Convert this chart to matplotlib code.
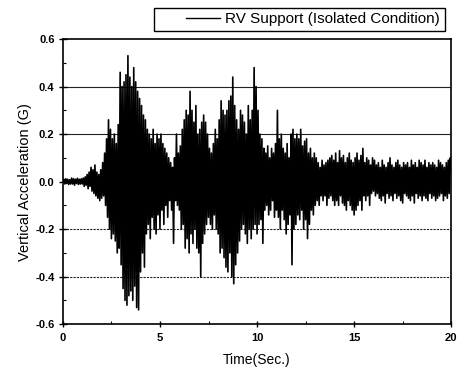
import numpy as np
import matplotlib
matplotlib.use("Agg")
import matplotlib.pyplot as plt
from matplotlib.ticker import MultipleLocator
from matplotlib.legend_handler import HandlerLine2D

plt.rcParams['font.family'] = ['Liberation Sans', 'DejaVu Sans']

# sample interval (s)
dt = 0.05

acc_0 = [0.00, 0.01, -0.01, 0.012, -0.008, 0.01, -0.012, 0.008, -0.01, 0.015, -0.01, 0.012, -0.015, 0.01, -0.008, 0.014, -0.012, 0.01, -0.01, 0.012]
acc_1 = [-0.01, 0.015, -0.02, 0.02, -0.015, 0.03, -0.03, 0.04, -0.02, 0.06, -0.04, 0.05, -0.05, 0.07, -0.06, 0.04, -0.07, 0.03, -0.08, 0.05]
acc_2 = [-0.07, 0.08, -0.06, 0.12, -0.1, 0.18, -0.15, 0.26, -0.2, 0.22, -0.24, 0.18, -0.22, 0.2, -0.25, 0.16, -0.3, 0.24, -0.28, 0.46]
acc_3 = [-0.35, 0.4, -0.45, 0.42, -0.5, 0.45, -0.52, 0.53, -0.48, 0.44, -0.46, 0.4, -0.5, 0.48, -0.44, 0.42, -0.53, 0.38, -0.54, 0.35]
acc_4 = [-0.38, 0.32, -0.3, 0.28, -0.36, 0.26, -0.22, 0.22, -0.18, 0.2, -0.24, 0.18, -0.15, 0.22, -0.2, 0.16, -0.22, 0.2, -0.14, 0.18]
acc_5 = [-0.2, 0.2, -0.12, 0.16, -0.18, 0.14, -0.1, 0.12, -0.15, 0.1, -0.08, 0.08, -0.12, 0.06, -0.26, 0.1, -0.08, 0.2, -0.1, 0.12]
acc_6 = [-0.12, 0.15, -0.2, 0.22, -0.18, 0.26, -0.28, 0.3, -0.24, 0.28, -0.3, 0.38, -0.22, 0.3, -0.26, 0.25, -0.2, 0.32, -0.28, 0.2]
acc_7 = [-0.3, 0.22, -0.4, 0.25, -0.26, 0.28, -0.22, 0.25, -0.18, 0.2, -0.15, 0.14, -0.18, 0.12, -0.2, 0.16, -0.14, 0.22, -0.2, 0.18]
acc_8 = [-0.22, 0.26, -0.3, 0.34, -0.28, 0.3, -0.32, 0.28, -0.36, 0.3, -0.38, 0.34, -0.3, 0.36, -0.4, 0.44, -0.43, 0.32, -0.35, 0.26]
acc_9 = [-0.3, 0.22, -0.25, 0.3, -0.2, 0.28, -0.18, 0.25, -0.22, 0.2, -0.26, 0.32, -0.2, 0.26, -0.24, 0.3, -0.2, 0.48, -0.18, 0.4]
acc_10 = [-0.22, 0.3, -0.18, 0.2, -0.16, 0.18, -0.26, 0.14, -0.12, 0.12, -0.1, 0.15, -0.14, 0.1, -0.12, 0.14, -0.08, 0.12, -0.15, 0.16]
acc_11 = [-0.12, 0.3, -0.15, 0.18, -0.2, 0.2, -0.12, 0.14, -0.16, 0.12, -0.22, 0.16, -0.18, 0.1, -0.14, 0.2, -0.35, 0.22, -0.2, 0.18]
acc_12 = [-0.18, 0.2, -0.14, 0.18, -0.16, 0.22, -0.12, 0.15, -0.2, 0.17, -0.16, 0.18, -0.24, 0.12, -0.18, 0.14, -0.12, 0.1, -0.14, 0.12]
acc_13 = [-0.1, 0.1, -0.08, 0.08, -0.1, 0.06, -0.06, 0.09, -0.08, 0.07, -0.06, 0.08, -0.1, 0.09, -0.07, 0.1, -0.06, 0.11, -0.08, 0.09]
acc_14 = [-0.1, 0.12, -0.08, 0.08, -0.1, 0.13, -0.06, 0.1, -0.09, 0.11, -0.1, 0.08, -0.12, 0.1, -0.08, 0.12, -0.1, 0.09, -0.12, 0.08]
acc_15 = [-0.14, 0.1, -0.12, 0.12, -0.1, 0.09, -0.08, 0.11, -0.12, 0.14, -0.06, 0.08, -0.08, 0.1, -0.06, 0.09, -0.1, 0.07, -0.05, 0.1]
acc_16 = [-0.04, 0.09, -0.06, 0.07, -0.05, 0.08, -0.07, 0.06, -0.08, 0.09, -0.06, 0.07, -0.09, 0.06, -0.05, 0.08, -0.07, 0.1, -0.06, 0.07]
acc_17 = [-0.08, 0.06, -0.05, 0.08, -0.07, 0.09, -0.06, 0.07, -0.08, 0.06, -0.09, 0.08, -0.05, 0.07, -0.06, 0.08, -0.07, 0.06, -0.08, 0.09]
acc_18 = [-0.06, 0.07, -0.09, 0.08, -0.05, 0.06, -0.07, 0.09, -0.06, 0.08, -0.08, 0.07, -0.06, 0.09, -0.07, 0.06, -0.08, 0.08, -0.05, 0.07]
acc_19 = [-0.07, 0.08, -0.06, 0.07, -0.08, 0.06, -0.07, 0.09, -0.06, 0.08, -0.05, 0.07, -0.08, 0.06, -0.06, 0.08, -0.07, 0.09, -0.05, 0.1, 0.04]

acc = (acc_0 + acc_1 + acc_2 + acc_3 + acc_4 + acc_5 + acc_6 + acc_7 + acc_8 + acc_9
       + acc_10 + acc_11 + acc_12 + acc_13 + acc_14 + acc_15 + acc_16 + acc_17 + acc_18 + acc_19)
time = np.arange(len(acc)) * dt

series_label = "RV Support (Isolated Condition)"
xticks = [0, 5, 10, 15, 20]
yticks = [-0.6, -0.4, -0.2, 0.0, 0.2, 0.4, 0.6]


class GapHandler(HandlerLine2D):
    """Legend line drawn only in the right part of the handle box."""
    def create_artists(self, legend, orig_handle, xdescent, ydescent,
                       width, height, fontsize, trans):
        arts = super().create_artists(legend, orig_handle, xdescent, ydescent,
                                      width, height, fontsize, trans)
        for a in arts:
            xd = np.asarray(a.get_xdata(), dtype=float)
            if len(xd) >= 2:
                start = xd[0] + 0.45 * (xd[-1] - xd[0])
                a.set_xdata(np.linspace(start, xd[-1], len(xd)))
        return arts


fig = plt.figure(figsize=(4.59, 3.76), dpi=100)
ax = fig.add_axes([0.137, 0.138, 0.846, 0.758])

line, = ax.plot(time, acc, color='black', linewidth=1.2, label=series_label)

ax.set_xlim(0, 20)
ax.set_ylim(-0.6, 0.6)
ax.set_xticks(xticks)
ax.set_yticks(yticks)
ax.set_yticklabels([f"{v:.1f}" for v in yticks], fontweight='bold', fontsize=8)
ax.set_xticklabels([str(v) for v in xticks], fontweight='bold', fontsize=8)
ax.xaxis.set_minor_locator(MultipleLocator(2.5))
ax.yaxis.set_minor_locator(MultipleLocator(0.1))
ax.tick_params(which='both', color='black')
ax.tick_params(axis='y', which='major', direction='inout', length=6, width=1, pad=3)
ax.tick_params(axis='y', which='minor', direction='in', length=2.5, width=0.8)
ax.tick_params(axis='x', which='major', direction='inout', length=5, width=1, pad=4)
ax.tick_params(axis='x', which='minor', direction='in', length=2.5, width=0.8)

for s in ax.spines.values():
    s.set_linewidth(1.2)

ax.set_xlabel("Time(Sec.)", fontsize=10, labelpad=7)
ax.set_ylabel("Vertical Acceleration (G)", fontsize=10.5, labelpad=2)

ax.yaxis.grid(True, color='#222222', linewidth=0.8)
ax.set_axisbelow(True)
for v, gl in zip(yticks, ax.get_ygridlines()):
    if v < 0:
        gl.set_linestyle((0, (2, 1)))
    if abs(v) >= 0.6 or v == 0:
        gl.set_visible(False)

leg = fig.legend(handles=[line], loc='upper right', bbox_to_anchor=(0.969, 0.979),
                 fontsize=11, frameon=True, fancybox=False, edgecolor='black',
                 framealpha=1, handlelength=4.0, borderpad=0.3, handletextpad=0.35,
                 borderaxespad=0, handler_map={line: GapHandler()})
leg.get_frame().set_linewidth(1.0)
for h in leg.get_lines():
    h.set_linewidth(1.0)

fig.savefig("out.png", dpi=100)
